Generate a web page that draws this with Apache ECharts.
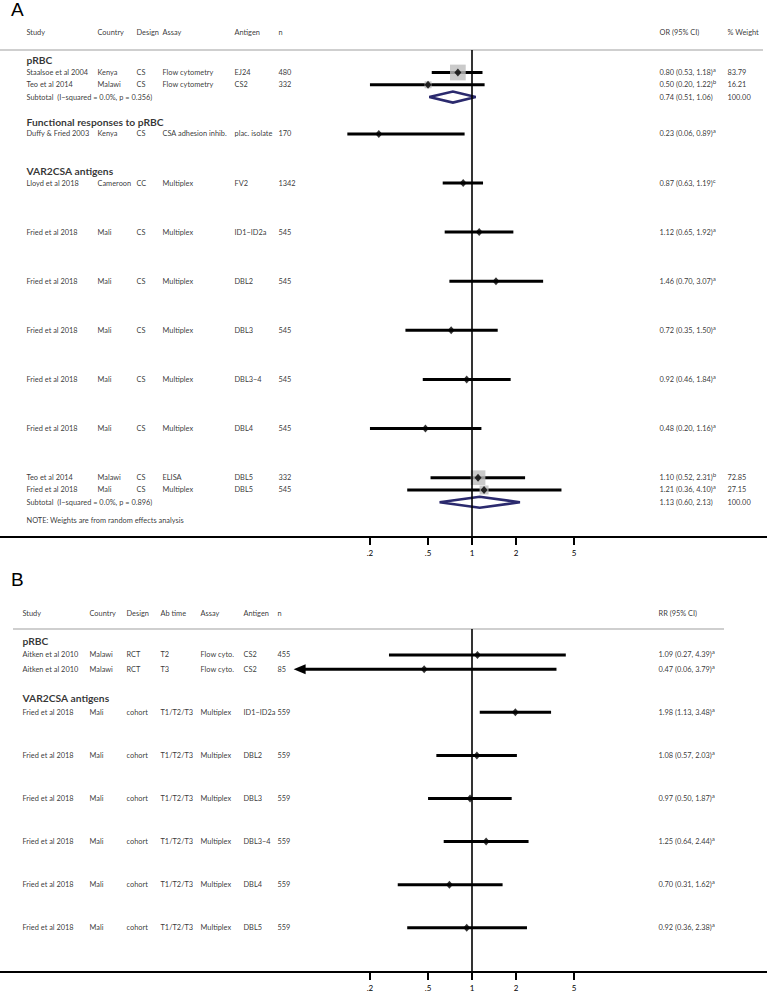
<!DOCTYPE html>
<html><head><meta charset="utf-8">
<script src="https://cdn.jsdelivr.net/npm/echarts@6/dist/echarts.min.js"></script>
<style>html,body{margin:0;padding:0;background:#fff}#c{width:767px;height:992px}</style>
</head><body><div id="c"></div>
<script>
// ---------------- DATA: panel A (OR) ----------------
const aGroups  = ['pRBC', 'Functional responses to pRBC', 'VAR2CSA antigens'];
const aStudy   = ['Staalsoe et al 2004','Teo et al 2014','Duffy & Fried 2003','Lloyd et al 2018','Fried et al 2018','Fried et al 2018','Fried et al 2018','Fried et al 2018','Fried et al 2018','Teo et al 2014','Fried et al 2018'];
const aCountry = ['Kenya','Malawi','Kenya','Cameroon','Mali','Mali','Mali','Mali','Mali','Malawi','Mali'];
const aDesign  = ['CS','CS','CS','CC','CS','CS','CS','CS','CS','CS','CS'];
const aAssay   = ['Flow cytometry','Flow cytometry','CSA adhesion inhib.','Multiplex','Multiplex','Multiplex','Multiplex','Multiplex','Multiplex','ELISA','Multiplex'];
const aAntigen = ['EJ24','CS2','plac. isolate','FV2','ID1\u2212ID2a','DBL2','DBL3','DBL3\u22124','DBL4','DBL5','DBL5'];
const aN       = [480, 332, 170, 1342, 545, 545, 545, 545, 545, 332, 545];
const aOR      = [0.80, 0.50, 0.23, 0.87, 1.12, 1.46, 0.72, 0.92, 0.48, 1.10, 1.21];
const aLow     = [0.53, 0.20, 0.06, 0.63, 0.65, 0.70, 0.35, 0.46, 0.20, 0.52, 0.36];
const aHigh    = [1.18, 1.22, 0.89, 1.19, 1.92, 3.07, 1.50, 1.84, 1.16, 2.31, 4.10];
const aFoot    = ['a','b','a','c','a','a','a','a','a','b','a'];
const aWeight  = [83.79, 16.21, null, null, null, null, null, null, null, 72.85, 27.15];
const aSubI2   = ['0.0%', '0.0%'];
const aSubP    = [0.356, 0.896];
const aSubOR   = [0.74, 1.13];
const aSubLow  = [0.51, 0.60];
const aSubHigh = [1.06, 2.13];
const aSubWeight = [100.00, 100.00];
const aHeaders = ['Study','Country','Design','Assay','Antigen','n','OR (95% CI)','% Weight'];
const aNote    = 'NOTE: Weights are from random effects analysis';

// ---------------- DATA: panel B (RR) ----------------
const bGroups  = ['pRBC', 'VAR2CSA antigens'];
const bStudy   = ['Aitken et al 2010','Aitken et al 2010','Fried et al 2018','Fried et al 2018','Fried et al 2018','Fried et al 2018','Fried et al 2018','Fried et al 2018'];
const bCountry = ['Malawi','Malawi','Mali','Mali','Mali','Mali','Mali','Mali'];
const bDesign  = ['RCT','RCT','cohort','cohort','cohort','cohort','cohort','cohort'];
const bAbTime  = ['T2','T3','T1/T2/T3','T1/T2/T3','T1/T2/T3','T1/T2/T3','T1/T2/T3','T1/T2/T3'];
const bAssay   = ['Flow cyto.','Flow cyto.','Multiplex','Multiplex','Multiplex','Multiplex','Multiplex','Multiplex'];
const bAntigen = ['CS2','CS2','ID1\u2212ID2a','DBL2','DBL3','DBL3\u22124','DBL4','DBL5'];
const bN       = [455, 85, 559, 559, 559, 559, 559, 559];
const bRR      = [1.09, 0.47, 1.98, 1.08, 0.97, 1.25, 0.70, 0.92];
const bLow     = [0.27, 0.06, 1.13, 0.57, 0.50, 0.64, 0.31, 0.36];
const bHigh    = [4.39, 3.79, 3.48, 2.03, 1.87, 2.44, 1.62, 2.38];
const bFoot    = ['a','a','a','a','a','a','a','a'];
const bHeaders = ['Study','Country','Design','Ab time','Assay','Antigen','n','RR (95% CI)'];

// ---------------- AXIS TICKS ----------------
const xTicks      = [0.2, 0.5, 1, 2, 5];
const xTickLabels = ['.2', '.5', '1', '2', '5'];

// ---------------- LAYOUT ----------------
const W = 767;
const PX_PER_DECADE = 146, X_ONE = 472;
const xMin = Math.pow(10, -X_ONE / PX_PER_DECADE);
const xMax = Math.pow(10, (W - X_ONE) / PX_PER_DECADE);
const FONT = "Lato,'Liberation Sans',sans-serif";
const FS = 7.4;
const NAVY = '#2b2a6e';
const SQ_K = 1.72;

const layoutA = {
  grid: {top: 50, height: 487}, yMin: -1.832, yMax: 37.83,
  rows: {head: -3.22, group: [-1, 4, 8], study: [0,1,5,9,13,17,21,25,29,33,34], sub: [2, 35], note: 36.5},
  cols: [26, 97, 136, 162, 234, 278, 659, 727],
  clipBelow: 0.14, arrowBelow: null
};
const layoutB = {
  grid: {top: 629, height: 344}, yMin: -1.806, yMax: 22.08,
  rows: {head: -2.92, group: [-1, 3], study: [0,1,4,7,10,13,16,19]},
  cols: [22, 89, 126, 160, 200, 243, 277, 658],
  clipBelow: 0, arrowBelow: 0.1
};

const RICH = {
  m: {fontSize: FS, lineHeight: 12, fontFamily: FONT, color: '#000'},
  s: {fontSize: 6.2, lineHeight: 6, verticalAlign: 'top', fontFamily: FONT, color: '#000'}
};
const f2 = v => v.toFixed(2);
const ci = (e, l, h) => `${f2(e)} (${f2(l)}, ${f2(h)})`;
const txt = (x, row, text, extra) => ({value: [x, row], label: Object.assign({formatter: text}, extra || {})});
const HEAD = {fontWeight: 'bold', fontSize: 10.3, color: '#000'};

function panelSeries(gi, L, d) {
  const xi = gi * 2, ti = gi * 2 + 1;
  const series = [];
  // weight squares
  const sq = [];
  d.est.forEach((e, i) => { if (d.weight && d.weight[i] != null) sq.push([e, L.rows.study[i], d.weight[i]]); });
  series.push({type: 'scatter', xAxisIndex: xi, yAxisIndex: gi, symbol: 'rect', silent: true,
    symbolSize: v => SQ_K * Math.sqrt(v[2]), itemStyle: {color: '#bdbdbd'}, data: sq});
  // CI lines
  series.push({type: 'custom', xAxisIndex: xi, yAxisIndex: gi, silent: true, clip: false,
    data: d.low.map((l, i) => [l, d.high[i], L.rows.study[i]]),
    encode: {x: [0, 1], y: 2},
    renderItem: (params, api) => {
      const lo = api.value(0), hi = api.value(1), row = api.value(2);
      const start = Math.max(lo, L.clipBelow || 0);
      const p1 = api.coord([start, row]), p2 = api.coord([hi, row]);
      const children = [];
      let x1 = p1[0];
      if (L.arrowBelow && lo < L.arrowBelow) {
        children.push({type: 'polygon', shape: {points: [[p1[0], p1[1]], [p1[0] + 12, p1[1] - 5], [p1[0] + 12, p1[1] + 5]]}, style: {fill: '#000'}});
        x1 = p1[0] + 8;
      }
      children.push({type: 'line', shape: {x1: x1, y1: p1[1], x2: p2[0], y2: p2[1]}, style: {stroke: '#000', lineWidth: 3}});
      return {type: 'group', children};
    },
    markLine: {silent: true, symbol: ['none', 'none'], label: {show: false},
      lineStyle: {color: '#000', width: 1.6, type: 'solid'}, data: [{xAxis: 1}]}
  });
  // point estimates
  series.push({type: 'scatter', xAxisIndex: xi, yAxisIndex: gi, symbol: 'diamond', symbolSize: [7, 8], silent: true,
    itemStyle: {color: '#000'}, data: d.est.map((e, i) => [e, L.rows.study[i]])});
  // subtotal diamonds
  if (d.subEst) {
    series.push({type: 'custom', xAxisIndex: xi, yAxisIndex: gi, silent: true, clip: false,
      data: d.subEst.map((e, i) => [d.subLow[i], e, d.subHigh[i], L.rows.sub[i]]),
      encode: {x: [0, 1, 2], y: 3},
      renderItem: (params, api) => {
        const row = api.value(3);
        const a = api.coord([api.value(0), row]), b = api.coord([api.value(1), row]), c = api.coord([api.value(2), row]);
        return {type: 'polygon', shape: {points: [a, [b[0], b[1] - 5.5], c, [b[0], b[1] + 5.5]]},
          style: {fill: 'none', stroke: NAVY, lineWidth: 2.6}};
      }});
  }
  // texts
  const items = [];
  const C = L.cols;
  d.headers.forEach((h, k) => items.push(txt(C[k], L.rows.head, h)));
  d.groups.forEach((g, k) => items.push(txt(C[0], L.rows.group[k], g, HEAD)));
  d.study.forEach((s, i) => {
    const r = L.rows.study[i];
    d.cols.forEach((arr, k) => items.push(txt(C[k], r, String(arr[i]))));
    const ciCol = d.cols.length;
    items.push(txt(C[ciCol], r, `{m|${ci(d.est[i], d.low[i], d.high[i])}}{s|${d.foot[i]}}`));
    if (d.weight && d.weight[i] != null) items.push(txt(C[ciCol + 1], r, f2(d.weight[i])));
  });
  if (d.subEst) {
    const ciCol = d.cols.length;
    d.subEst.forEach((e, i) => {
      const r = L.rows.sub[i];
      items.push(txt(C[0], r, `Subtotal  (I\u2212squared = ${d.subI2[i]}, p = ${d.subP[i].toFixed(3)})`));
      items.push(txt(C[ciCol], r, ci(e, d.subLow[i], d.subHigh[i])));
      items.push(txt(C[ciCol + 1], r, f2(d.subWeight[i])));
    });
  }
  if (d.note) items.push(txt(C[0], L.rows.note, d.note));
  series.push({type: 'scatter', xAxisIndex: ti, yAxisIndex: gi, symbolSize: 1, silent: true, clip: false,
    itemStyle: {color: 'rgba(0,0,0,0)'},
    label: {show: true, position: 'right', distance: 0, color: '#000', fontFamily: FONT, fontSize: FS, rich: RICH},
    data: items});
  return series;
}

function xAxes(gi) {
  return [
    {type: 'log', gridIndex: gi, logBase: 10, min: xMin, max: xMax, position: 'bottom',
      axisLine: {show: true, onZero: false, lineStyle: {color: '#000', width: 2}},
      axisTick: {show: true, customValues: xTicks, length: 8, lineStyle: {color: '#000', width: 2}},
      axisLabel: {show: true, customValues: xTicks, margin: 12, color: '#000', fontSize: 8, fontFamily: FONT,
        formatter: v => { const k = xTicks.findIndex(t => Math.abs(t - v) < 1e-6 * t); return k >= 0 ? xTickLabels[k] : ''; }},
      splitLine: {show: false}, minorTick: {show: false}},
    {type: 'value', gridIndex: gi, min: 0, max: W, show: false, position: 'top'}
  ];
}

const dataA = {headers: aHeaders, groups: aGroups, study: aStudy,
  cols: [aStudy, aCountry, aDesign, aAssay, aAntigen, aN], est: aOR, low: aLow, high: aHigh, foot: aFoot, weight: aWeight,
  subEst: aSubOR, subLow: aSubLow, subHigh: aSubHigh, subI2: aSubI2, subP: aSubP, subWeight: aSubWeight, note: aNote};
const dataB = {headers: bHeaders, groups: bGroups, study: bStudy,
  cols: [bStudy, bCountry, bDesign, bAbTime, bAssay, bAntigen, bN], est: bRR, low: bLow, high: bHigh, foot: bFoot};

const chart = echarts.init(document.getElementById('c'), null, {renderer: 'svg', width: 767, height: 992});
chart.setOption({
  animation: false,
  backgroundColor: '#fff',
  title: [
    {text: 'A', left: 11, top: 0, padding: 0, textStyle: {fontSize: 19, fontWeight: 'normal', color: '#000', fontFamily: "'Liberation Sans',sans-serif"}},
    {text: 'B', left: 11, top: 570, padding: 0, textStyle: {fontSize: 19, fontWeight: 'normal', color: '#000', fontFamily: "'Liberation Sans',sans-serif"}}
  ],
  graphic: [
    {type: 'line', shape: {x1: 0, y1: 50, x2: 763, y2: 50}, style: {stroke: '#cfcfcf', lineWidth: 2}, z: -1},
    {type: 'line', shape: {x1: 13, y1: 629, x2: 724, y2: 629}, style: {stroke: '#cfcfcf', lineWidth: 2}, z: -1}
  ],
  grid: [
    {left: 0, right: 0, top: layoutA.grid.top, height: layoutA.grid.height, containLabel: false},
    {left: 0, right: 0, top: layoutB.grid.top, height: layoutB.grid.height, containLabel: false}
  ],
  xAxis: [...xAxes(0), ...xAxes(1)],
  yAxis: [
    {type: 'value', gridIndex: 0, inverse: true, min: layoutA.yMin, max: layoutA.yMax, show: false},
    {type: 'value', gridIndex: 1, inverse: true, min: layoutB.yMin, max: layoutB.yMax, show: false}
  ],
  series: [...panelSeries(0, layoutA, dataA), ...panelSeries(1, layoutB, dataB)]
});
</script>
</body></html>
